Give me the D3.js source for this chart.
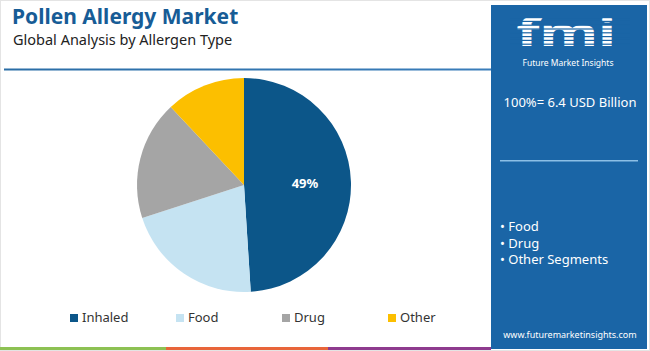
<!DOCTYPE html>
<html>
<head>
<meta charset="utf-8" />
<title>Pollen Allergy Market</title>
<script src="https://cdn.jsdelivr.net/npm/d3@7/dist/d3.min.js"></script>
<style type="text/css">
body { margin: 0; background: #fff; }
text { font-family: "Noto Sans", "DejaVu Sans", sans-serif; }
</style>
</head>
<body>
<div id="chart"></div>
<script type="text/javascript">
var categories = ["Inhaled", "Food", "Drug", "Other"];
var shares = [49, 21, 18, 12];
var colors = ["#0c5689", "#c5e3f2", "#a5a5a5", "#fcbf00"];
var panelSegments = ["Food", "Drug", "Other Segments"];
var marketSize = "100%= 6.4 USD Billion";

var width = 650,
    height = 351,
    cx = 244,
    cy = 185,
    radius = 107;

var svg = d3.select("#chart")
    .append("svg")
    .attr("width", width)
    .attr("height", height);

// outer frame
svg.append("rect")
    .attr("x", 0.5).attr("y", 0.5)
    .attr("width", width - 1).attr("height", height - 1)
    .attr("fill", "none").attr("stroke", "#e4e4e4");

// title
svg.append("text")
    .attr("x", 12).attr("y", 24)
    .attr("font-size", 21).attr("font-weight", "bold")
    .attr("fill", "#175c96")
    .text("Pollen Allergy Market");

svg.append("text")
    .attr("x", 13).attr("y", 45)
    .attr("font-size", 14.5)
    .attr("fill", "#222")
    .text("Global Analysis by Allergen Type");

var grad = svg.append("defs").append("linearGradient")
    .attr("id", "rule");
grad.append("stop").attr("offset", "0%").attr("stop-color", "#2a6da6");
grad.append("stop").attr("offset", "100%").attr("stop-color", "#3a7dba");

svg.append("rect")
    .attr("x", 4).attr("y", 68.5)
    .attr("width", 487).attr("height", 2)
    .attr("fill", "url(#rule)");

// pie
var color = d3.scaleOrdinal().domain(categories).range(colors);

var pie = d3.pie()
    .sort(null)
    .value(d => d.value);

var arc = d3.arc().innerRadius(0).outerRadius(radius);
var labelArc = d3.arc().innerRadius(radius * 0.57).outerRadius(radius * 0.57);

var data = categories.map((c, i) => ({ name: c, value: shares[i] }));
var arcs = pie(data);

var g = svg.append("g").attr("transform", "translate(" + cx + "," + cy + ")");

g.selectAll("path")
    .data(arcs)
    .enter()
    .append("path")
    .attr("d", arc)
    .attr("fill", d => color(d.data.name));

g.selectAll(".lbl")
    .data(arcs.filter(d => d.data.name === "Inhaled"))
    .enter()
    .append("text")
    .attr("class", "lbl")
    .attr("transform", d => "translate(" + labelArc.centroid(d) + ")")
    .attr("text-anchor", "middle")
    .attr("dy", "0.35em")
    .attr("font-family", "Liberation Sans, Arial, sans-serif")
    .attr("font-size", 13).attr("font-weight", "bold")
    .attr("fill", "#fff")
    .text(d => d.data.value + "%");

// legend
var legendX = d3.scalePoint()
    .domain(categories)
    .range([70, 388]);

var lg = svg.selectAll(".legend")
    .data(categories)
    .enter()
    .append("g")
    .attr("class", "legend")
    .attr("transform", d => "translate(" + legendX(d) + ",313)");

lg.append("rect")
    .attr("width", 8).attr("height", 8)
    .attr("y", 1)
    .attr("fill", d => color(d));

lg.append("text")
    .attr("x", 12).attr("y", 9)
    .attr("font-size", 13)
    .attr("fill", "#333")
    .text(d => d);

// bottom strip
var strip = [["#8dc153", 0, 166], ["#e8653a", 166, 328], ["#8e3b8e", 328, 491]];
svg.selectAll(".strip")
    .data(strip)
    .enter()
    .append("rect")
    .attr("x", d => d[1]).attr("y", 347)
    .attr("width", d => d[2] - d[1]).attr("height", 3)
    .attr("fill", d => d[0]);

// right panel
var panelX = 491, panelW = 156;
svg.append("rect")
    .attr("x", panelX).attr("y", 5)
    .attr("width", panelW).attr("height", 344)
    .attr("fill", "#1a65a6");

// logo
var logo = svg.append("g");
logo.append("text")
    .attr("transform", "translate(566,46) scale(1.2,0.74)")
    .attr("text-anchor", "middle")
    .attr("font-family", "DejaVu Serif, serif")
    .attr("font-size", 50).attr("font-weight", "bold")
    .attr("fill", "#fff")
    .text("fmi");
for (var k = 0; k < 8; k++) {
    logo.append("rect")
        .attr("x", 510).attr("y", 17 + k * 3.8)
        .attr("width", 120).attr("height", 1.2)
        .attr("fill", "#1a65a6");
}
logo.append("text")
    .attr("x", 568).attr("y", 66)
    .attr("text-anchor", "middle")
    .attr("font-family", "DejaVu Sans, sans-serif")
    .attr("font-size", 8.5)
    .attr("fill", "#fff")
    .text("Future Market Insights");

svg.append("text")
    .attr("x", 570).attr("y", 107)
    .attr("text-anchor", "middle")
    .attr("font-size", 13)
    .attr("fill", "#fff")
    .text(marketSize);

svg.append("rect")
    .attr("x", 500).attr("y", 160)
    .attr("width", 138).attr("height", 1.5)
    .attr("fill", "#8cbfe6");

svg.selectAll(".seg")
    .data(panelSegments)
    .enter()
    .append("text")
    .attr("class", "seg")
    .attr("x", 500)
    .attr("y", (d, i) => 231 + i * 16.5)
    .attr("font-size", 13)
    .attr("fill", "#fff")
    .text(d => "\u2022 " + d);

svg.append("text")
    .attr("x", 570).attr("y", 338)
    .attr("text-anchor", "middle")
    .attr("font-size", 9)
    .attr("fill", "#fff")
    .text("www.futuremarketinsights.com");
</script>
</body>
</html>
